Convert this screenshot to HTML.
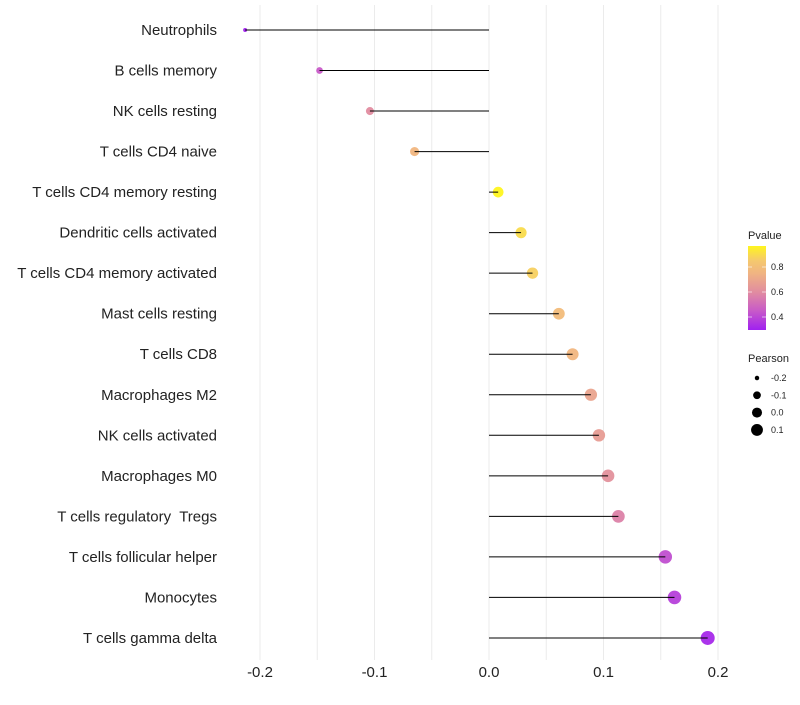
<!DOCTYPE html>
<html><head><meta charset="utf-8"><style>
body{margin:0;background:#fff;font-family:"Liberation Sans",sans-serif;}
svg text{font-family:"Liberation Sans",sans-serif;white-space:pre;}
</style></head><body>
<svg id="chart" width="800" height="700"></svg>
<script>
const categories=["Neutrophils","B cells memory","NK cells resting","T cells CD4 naive","T cells CD4 memory resting","Dendritic cells activated","T cells CD4 memory activated","Mast cells resting","T cells CD8","Macrophages M2","NK cells activated","Macrophages M0","T cells regulatory  Tregs","T cells follicular helper","Monocytes","T cells gamma delta"];
const pearson=[-0.213,-0.148,-0.104,-0.065,0.008,0.028,0.038,0.061,0.073,0.089,0.096,0.104,0.113,0.154,0.162,0.191];
const pvalue=[0.3,0.45,0.6,0.76,0.97,0.9,0.87,0.79,0.76,0.69,0.66,0.62,0.57,0.42,0.38,0.32];
const xTicks=[-0.2,-0.1,0.0,0.1,0.2];
const xTickLabels=["-0.2","-0.1","0.0","0.1","0.2"];
const pTicks=[0.4,0.6,0.8];
const sizeTicks=[-0.2,-0.1,0.0,0.1];

const NS="http://www.w3.org/2000/svg";
const svg=document.getElementById('chart');
function mk(t,a,p){const e=document.createElementNS(NS,t);for(const k in a)e.setAttribute(k,a[k]);(p||svg).appendChild(e);return e;}
const x=v=>489+(v)*1145;
const y=i=>30+i*40.53;
const stops=[[0.296,[160,32,240]],[0.45,[200,90,200]],[0.6,[225,140,160]],[0.75,[240,180,130]],[0.85,[245,200,110]],[0.968,[255,245,30]]];
function col(p){if(p<=stops[0][0])return 'rgb('+stops[0][1]+')';for(let i=1;i<stops.length;i++){if(p<=stops[i][0]){const a=stops[i-1],b=stops[i],t=(p-a[0])/(b[0]-a[0]);return 'rgb('+a[1].map((c,j)=>Math.round(c+(b[1][j]-c)*t)).join(',')+')';}}return 'rgb('+stops[stops.length-1][1]+')';}
const r=v=>Math.sqrt(Math.max(1,27.8+111.7*v));

for(let v=-0.2;v<=0.2001;v+=0.05){const g=mk('line',{x1:x(v),x2:x(v),y1:5,y2:660,stroke:'#ebebeb','stroke-width':1});

}
xTicks.forEach((v,i)=>{const t=mk('text',{x:x(v),y:677,'font-size':15,'text-anchor':'middle',fill:'#222'});t.textContent=xTickLabels[i];

});
categories.forEach((c,i)=>{
const t=mk('text',{x:217,y:y(i)+5,'font-size':15,'text-anchor':'end',fill:'#222'});t.textContent=c;


const pt=mk('circle',{cx:x(pearson[i]),cy:y(i),r:r(pearson[i]),fill:col(pvalue[i]),opacity:0.95});


const l=mk('line',{x1:x(0),x2:x(pearson[i]),y1:y(i),y2:y(i),stroke:'#000','stroke-width':1});


});
const defs=mk('defs',{});const lg=mk('linearGradient',{id:'pg',x1:0,y1:1,x2:0,y2:0},defs);
stops.forEach(s=>mk('stop',{offset:((s[0]-0.296)/(0.968-0.296)),'stop-color':'rgb('+s[1]+')'},lg));
const lt=mk('text',{x:748,y:239,'font-size':11,fill:'#222'});lt.textContent='Pvalue';


const cb=mk('rect',{x:748,y:246,width:18,height:84,fill:'url(#pg)'});


const py=p=>330-(p-0.296)/(0.968-0.296)*84;
pTicks.forEach(p=>{mk('line',{x1:748,x2:752,y1:py(p),y2:py(p),stroke:'#fff','stroke-opacity':0.6});mk('line',{x1:762,x2:766,y1:py(p),y2:py(p),stroke:'#fff','stroke-opacity':0.6});
const t=mk('text',{x:771,y:py(p)+3,'font-size':9,fill:'#222'});t.textContent=p.toFixed(1);

});
const st=mk('text',{x:748,y:362,'font-size':11,fill:'#222'});st.textContent='Pearson';


sizeTicks.forEach((v,i)=>{const cy=378+i*17.3;
const c=mk('circle',{cx:757,cy:cy,r:r(v)*0.95,fill:'#000'});


const t=mk('text',{x:771,y:cy+3,'font-size':9,fill:'#222'});t.textContent=v.toFixed(1);

});
</script>
</body></html>
